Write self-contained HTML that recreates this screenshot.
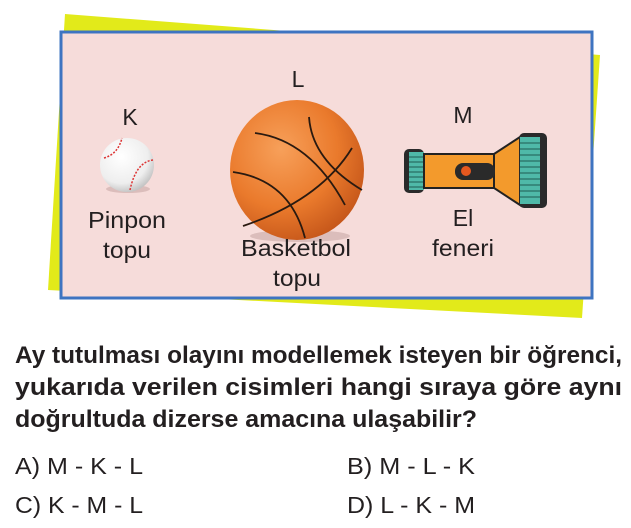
<!DOCTYPE html>
<html><head><meta charset="utf-8"><style>
html,body{margin:0;padding:0;background:#fff;width:631px;height:528px;overflow:hidden}
svg{display:block}
text{font-family:"Liberation Sans",sans-serif;fill:#231f20}
</style></head><body>
<svg width="631" height="528" viewBox="0 0 631 528">
<defs>
<radialGradient id="bb" cx="0.38" cy="0.35" r="0.7">
<stop offset="0" stop-color="#f7a05a"/><stop offset="0.6" stop-color="#ea7a2c"/><stop offset="1" stop-color="#c5561a"/>
</radialGradient>
<radialGradient id="wb" cx="0.4" cy="0.35" r="0.7">
<stop offset="0" stop-color="#ffffff"/><stop offset="0.7" stop-color="#eeeeee"/><stop offset="1" stop-color="#bdbdbd"/>
</radialGradient>
</defs>
<polygon points="65,14 600,55 582,318 48,290" fill="#e2ea1a"/>
<rect x="61" y="32" width="531" height="266" fill="#f6dcda" stroke="#3e74c1" stroke-width="3"/>
<!-- baseball -->
<ellipse cx="128" cy="189" rx="22" ry="4" fill="#c9a9a6" opacity="0.6"/>
<circle cx="127" cy="165" r="27" fill="url(#wb)"/>
<path d="M104,158 Q118,154 122,138" fill="none" stroke="#d33" stroke-width="1.5" stroke-dasharray="2,1.5"/>
<path d="M153,160 Q136,162 130,190" fill="none" stroke="#d33" stroke-width="1.5" stroke-dasharray="2,1.5"/>
<!-- basketball -->
<ellipse cx="300" cy="236" rx="50" ry="6" fill="#c9a9a6" opacity="0.6"/>
<ellipse cx="297" cy="170" rx="67" ry="70" fill="url(#bb)"/>
<g fill="none" stroke="#2a1a10" stroke-width="1.8">
<path d="M255,133 Q310,140 345,205"/>
<path d="M309,117 Q312,160 362,190"/>
<path d="M233,172 Q290,180 305,238"/>
<path d="M243,226 Q320,200 352,148"/>
</g>
<!-- flashlight -->
<rect x="404" y="149" width="20" height="44" rx="5" fill="#2a2a2a"/>
<rect x="409" y="152" width="15" height="38" fill="#4fb9a8"/>
<g stroke="#1f5a52" stroke-width="1"><line x1="409" y1="157" x2="424" y2="157"/><line x1="409" y1="162" x2="424" y2="162"/><line x1="409" y1="167" x2="424" y2="167"/><line x1="409" y1="172" x2="424" y2="172"/><line x1="409" y1="177" x2="424" y2="177"/><line x1="409" y1="182" x2="424" y2="182"/><line x1="409" y1="187" x2="424" y2="187"/></g>
<rect x="424" y="154" width="72" height="34" fill="#f39a2c" stroke="#222" stroke-width="2"/>
<polygon points="494,154 520,137 520,205 494,188" fill="#f39a2c" stroke="#222" stroke-width="2"/>
<rect x="455" y="163" width="40" height="17" rx="8" fill="#2a2a2a"/>
<circle cx="466" cy="171" r="5" fill="#e5581f"/>
<rect x="519" y="133" width="28" height="75" rx="5" fill="#2a2a2a"/>
<rect x="520" y="137" width="20" height="67" fill="#4fb9a8"/>
<g stroke="#1f5a52" stroke-width="1"><line x1="520" y1="143" x2="540" y2="143"/><line x1="520" y1="149" x2="540" y2="149"/><line x1="520" y1="155" x2="540" y2="155"/><line x1="520" y1="161" x2="540" y2="161"/><line x1="520" y1="167" x2="540" y2="167"/><line x1="520" y1="173" x2="540" y2="173"/><line x1="520" y1="179" x2="540" y2="179"/><line x1="520" y1="185" x2="540" y2="185"/><line x1="520" y1="191" x2="540" y2="191"/><line x1="520" y1="197" x2="540" y2="197"/></g>
<!-- labels -->
<g font-size="23" text-anchor="middle">
<text x="130" y="125">K</text>
<text x="298" y="87">L</text>
<text x="463" y="123">M</text>
<text x="127" y="228" textLength="78" lengthAdjust="spacingAndGlyphs">Pinpon</text>
<text x="127" y="258" textLength="48" lengthAdjust="spacingAndGlyphs">topu</text>
<text x="296" y="256" textLength="110" lengthAdjust="spacingAndGlyphs">Basketbol</text>
<text x="297" y="286" textLength="48" lengthAdjust="spacingAndGlyphs">topu</text>
<text x="463" y="226">El</text>
<text x="463" y="256" textLength="62" lengthAdjust="spacingAndGlyphs">feneri</text>
</g>
<g font-size="24" font-weight="bold">
<text x="15" y="363" textLength="607" lengthAdjust="spacingAndGlyphs">Ay tutulması olayını modellemek isteyen bir öğrenci,</text>
<text x="15" y="395" textLength="607" lengthAdjust="spacingAndGlyphs">yukarıda verilen cisimleri hangi sıraya göre aynı</text>
<text x="15" y="427" textLength="462" lengthAdjust="spacingAndGlyphs">doğrultuda dizerse amacına ulaşabilir?</text>
</g>
<g font-size="23">
<text x="15" y="474" textLength="128" lengthAdjust="spacingAndGlyphs">A) M - K - L</text>
<text x="347" y="474" textLength="128" lengthAdjust="spacingAndGlyphs">B) M - L - K</text>
<text x="15" y="513" textLength="128" lengthAdjust="spacingAndGlyphs">C) K - M - L</text>
<text x="347" y="513" textLength="128" lengthAdjust="spacingAndGlyphs">D) L - K - M</text>
</g>
</svg>
</body></html>
